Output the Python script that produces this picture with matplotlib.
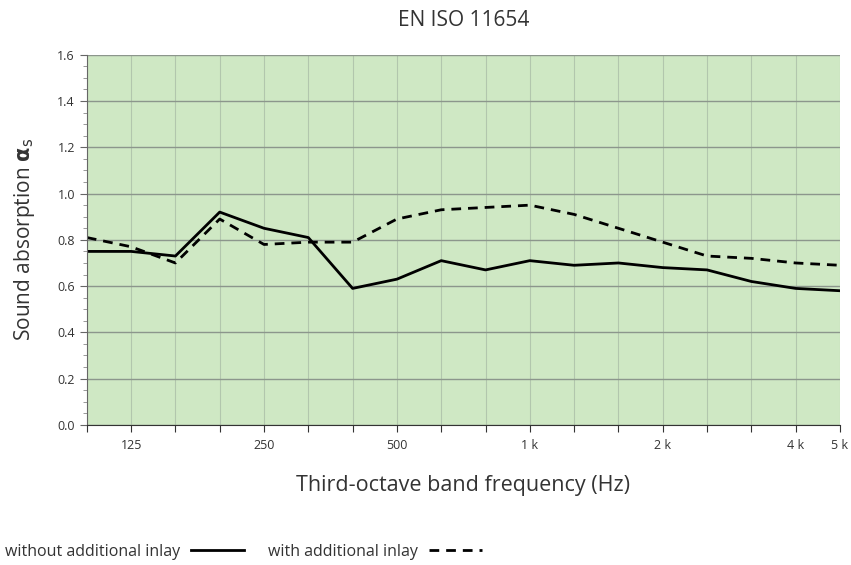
import matplotlib
matplotlib.use("Agg")
import matplotlib.pyplot as plt
from matplotlib.ticker import MultipleLocator
import numpy as np

plt.rcParams['font.family'] = ['Open Sans', 'DejaVu Sans']

# third-octave bands 100 Hz .. 5 kHz
bands = [100, 125, 160, 200, 250, 315, 400, 500, 630, 800,
         1000, 1250, 1600, 2000, 2500, 3150, 4000, 5000]
without_inlay = [0.75, 0.75, 0.73, 0.92, 0.85, 0.81, 0.59, 0.63, 0.71, 0.67,
                 0.71, 0.69, 0.70, 0.68, 0.67, 0.62, 0.59, 0.58]
with_inlay = [0.81, 0.77, 0.70, 0.89, 0.78, 0.79, 0.79, 0.89, 0.93, 0.94,
              0.95, 0.91, 0.85, 0.79, 0.73, 0.72, 0.70, 0.69]
labelled = {125: "125", 250: "250", 500: "500", 1000: "1 k",
            2000: "2 k", 4000: "4 k", 5000: "5 k"}

x = np.arange(len(bands))

fig = plt.figure(figsize=(8.51, 5.65), dpi=100)
ax = fig.add_axes([0.102, 0.248, 0.885, 0.655])
ax.set_facecolor('#cfe8c4')

l1, = ax.plot(x, without_inlay, color='black', lw=2.0, label='without additional inlay')
l2, = ax.plot(x, with_inlay, color='black', lw=2.0, ls=(0, (3.5, 2.5)), label='with additional inlay')

ax.set_xlim(0, len(bands) - 1)
ax.set_ylim(0, 1.6)
ax.set_xticks(x)
ax.set_xticklabels([labelled.get(b, "") for b in bands], fontsize=9, color='#333333')
ax.yaxis.set_major_locator(MultipleLocator(0.2))
ax.yaxis.set_minor_locator(MultipleLocator(0.05))
ax.set_yticklabels([f"{v:.1f}" for v in ax.get_yticks()], fontsize=9, color='#333333')
ax.tick_params(axis='x', length=5, color='#333333', pad=5)
ax.tick_params(axis='y', which='major', length=5, color='#666666')
ax.tick_params(axis='y', which='minor', length=3, color='#888888')

ax.grid(axis='y', color='#8c968c', lw=1.0)
ax.grid(axis='x', color='#b2c6ad', lw=0.8)
ax.set_axisbelow(True)
for s in ['top', 'right']:
    ax.spines[s].set_visible(False)
ax.spines['left'].set_color('#666666')
ax.spines['bottom'].set_color('#333333')

ax.set_title('EN ISO 11654', fontsize=15, color='#333333', pad=21)
ax.set_ylabel(r'Sound absorption $\mathbf{\alpha}_\mathrm{s}$', fontsize=15, color='#333333', labelpad=15)
ax.set_xlabel('Third-octave band frequency (Hz)', fontsize=15.5, color='#333333', labelpad=17)

fig.legend(handles=[l1, l2], loc='center left', bbox_to_anchor=(0.0, 0.023), ncol=2,
           markerfirst=False, frameon=False, fontsize=11.5, handlelength=3.3,
           columnspacing=1.5, handletextpad=0.7, labelcolor='#333333',
           borderaxespad=0.0, borderpad=0.3)

fig.savefig('out.png', dpi=100)
